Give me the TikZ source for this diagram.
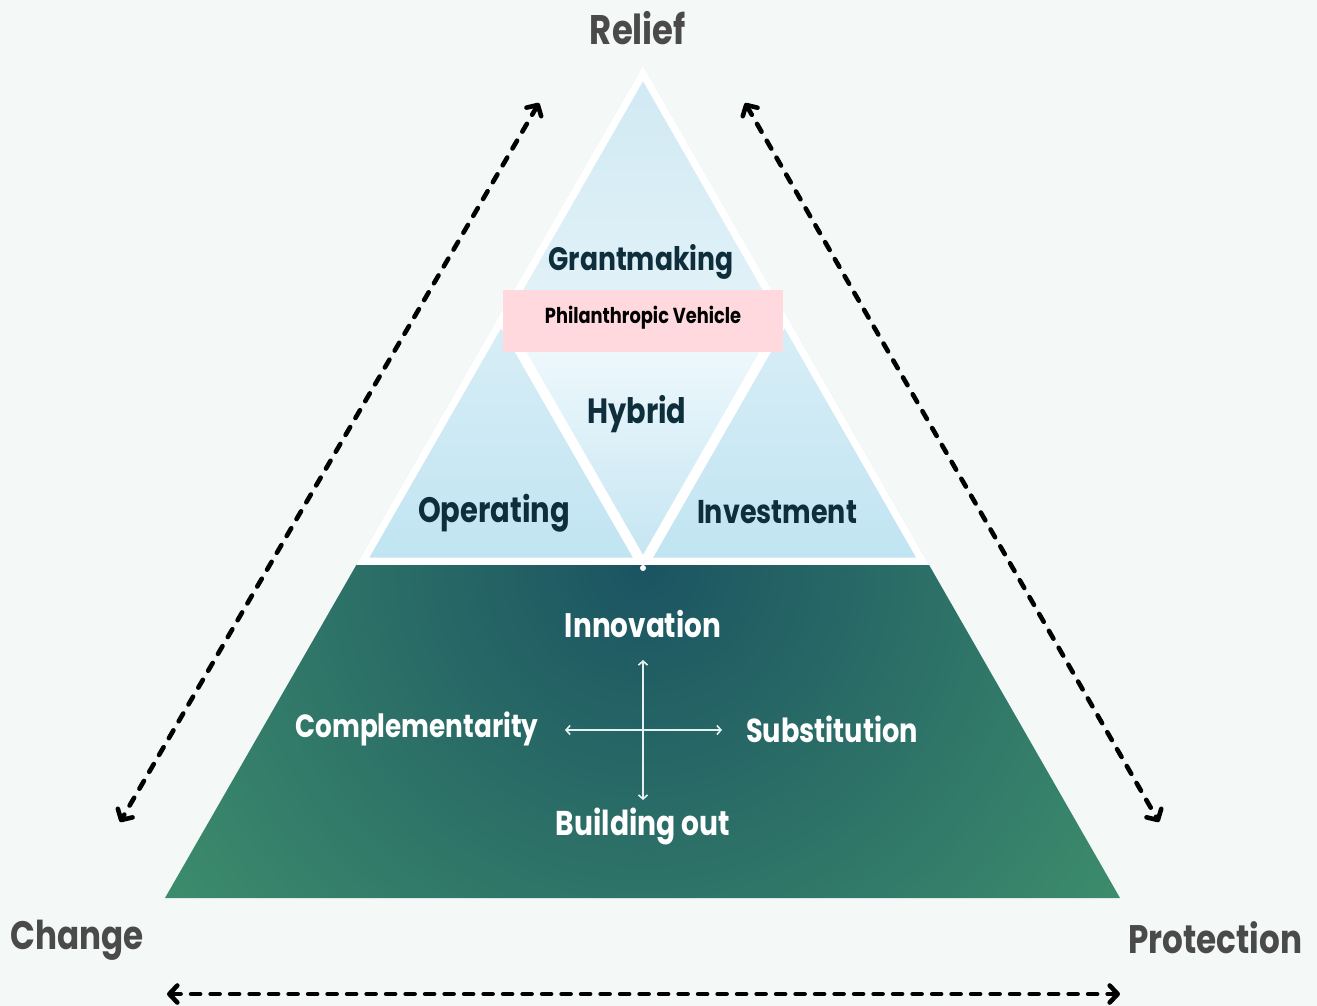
\documentclass[tikz,border=0pt]{standalone}
\usepackage{fontspec}
\setmainfont{Poppins}[FakeStretch=0.82]
\usetikzlibrary{arrows.meta,calc}
\definecolor{bgc}{HTML}{F4F8F7}
\definecolor{darktxt}{HTML}{0E2E3B}
\definecolor{graytxt}{HTML}{4A4A4A}
\definecolor{pinkbox}{HTML}{FFD9DE}
\definecolor{blueT}{HTML}{D8EEF6}
\definecolor{blueB}{HTML}{C0E4F2}
\definecolor{topT}{HTML}{D0E9F3}
\definecolor{topB}{HTML}{E2F2F8}
\definecolor{hybT}{HTML}{F5FBFE}
\definecolor{hybB}{HTML}{C3E5F2}
\definecolor{gDark}{HTML}{1B5462}
\definecolor{gLight}{HTML}{3F906D}
\definecolor{crossc}{HTML}{E4F3F1}
\newcommand{\fitw}[2]{\resizebox{#1pt}{!}{#2}}
\tikzset{
  dashedarrow/.style={line width=4.6, dash pattern=on 9 off 10.5, line cap=round,
    {Straight Barb[length=8,width=17,line cap=round,line join=round]}-{Straight Barb[length=8,width=17,line cap=round,line join=round]}},
  crossarrow/.style={crossc, line width=1.6,
    {Straight Barb[length=4,width=9]}-{Straight Barb[length=4,width=9]}},
  darklabel/.style={text=darktxt, inner sep=0pt, font=\bfseries},
  whitelabel/.style={text=white, inner sep=0pt, font=\bfseries},
  graylabel/.style={text=graytxt, inner sep=0pt, font=\bfseries},
  pinkbox/.style={fill=pinkbox, minimum width=280, minimum height=62, inner sep=0pt}
}
\begin{document}
\begin{tikzpicture}[x=1pt,y=-1pt]
\useasboundingbox (0,0) rectangle (1317,1006);
\fill[bgc] (0,0) rectangle (1317,1006);

% geometry
\coordinate (A) at (643,66);
\coordinate (L) at (356.3,565);
\coordinate (R) at (929.1,565);
\coordinate (BL) at (165,898);
\coordinate (BR) at (1120,898);
\coordinate (ML) at ($(A)!0.5!(L)$);
\coordinate (MR) at ($(A)!0.5!(R)$);
\coordinate (BC) at (643,565);

% upper triangle
\begin{scope}
\clip (A)--(L)--(R)--cycle;
\fill[white] (A)--(L)--(R)--cycle;
\shade[top color=topT, bottom color=topB] (A)--(ML)--(MR)--cycle;
\shade[top color=blueT, bottom color=blueB] (ML)--(L)--(BC)--cycle;
\shade[top color=blueT, bottom color=blueB] (MR)--(BC)--(R)--cycle;
\shade[top color=hybT, bottom color=hybB] (ML)--(MR)--(BC)--cycle;
\draw[white, line width=15, line join=miter] (A)--(L)--(R)--cycle;
\draw[white, line width=10, line join=miter] (ML)--(MR)--(BC)--cycle;
\end{scope}

% green trapezoid
\begin{scope}
\clip (L)--(BL)--(BR)--(R)--cycle;
\shade[inner color=gDark, outer color=gLight] (643,565) circle (620);
\end{scope}
\fill[white] (643,568) circle (3);

% labels upper
\node[darklabel] (grant) at (641,262) {\fitw{185}{Grantmaking}};
\node[pinkbox] (pv) at (643,321) {};
\node[inner sep=0pt, font=\bfseries, text=black] (pvt) at (643,318) {\fitw{196}{Philanthropic Vehicle}};
\node[darklabel] (hyb) at (637,414) {\fitw{99}{Hybrid}};
\node[darklabel] (op) at (494,513) {\fitw{152}{Operating}};
\node[darklabel] (inv) at (777,512) {\fitw{160}{Investment}};

% labels lower
\node[whitelabel] (inn) at (643,624) {\fitw{156}{Innovation}};
\node[whitelabel] (comp) at (417,729) {\fitw{243}{Complementarity}};
\node[whitelabel] (subs) at (832,729) {\fitw{172}{Substitution}};
\node[whitelabel] (bo) at (643,826) {\fitw{174}{Building out}};

% cross
\coordinate (cN) at (643,660);
\coordinate (cS) at (643,800);
\coordinate (cW) at (565,730);
\coordinate (cE) at (722,730);
\draw[crossarrow] (cN) -- (cS);
\draw[crossarrow] (cW) -- (cE);

% corner labels
\node[graylabel] (relief) at (638,28) {\fitw{96}{Relief}};
\node[graylabel] (change) at (77,940) {\fitw{133}{Change}};
\node[graylabel] (prot) at (1215,938) {\fitw{174}{Protection}};

% dashed arrows
\coordinate (dl1) at (539,103);
\coordinate (dl2) at (120,822);
\coordinate (dr1) at (745,103);
\coordinate (dr2) at (1159,822);
\coordinate (db1) at (167,994);
\coordinate (db2) at (1120,994);
\draw[dashedarrow] (dl1) -- (dl2);
\draw[dashedarrow] (dr1) -- (dr2);
\draw[dashedarrow] (db1) -- (db2);
\end{tikzpicture}
\end{document}
